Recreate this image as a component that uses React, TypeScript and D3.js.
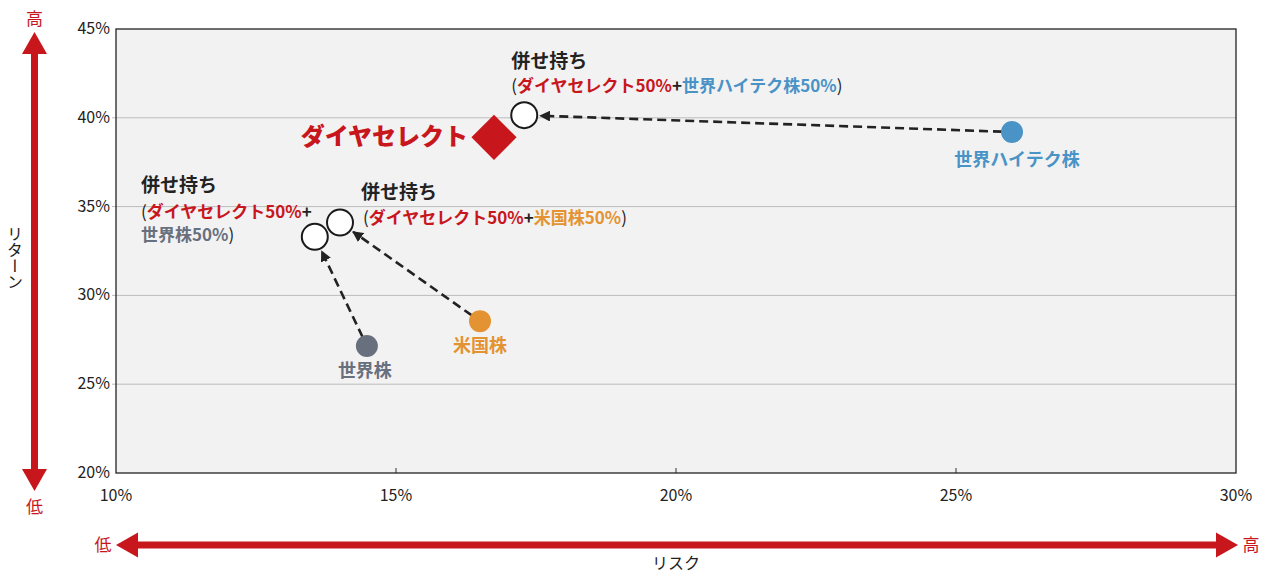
import React from 'react';
import * as d3 from 'd3';

// single assets (risk %, return %)
const assetNames = ['世界ハイテク株', '米国株', '世界株'];
const assetRisk = [26.0, 16.5, 14.48];
const assetReturn = [39.2, 28.55, 27.15];
const assetColors = ['#4a93c6', '#e39331', '#68707e'];

// 50/50 combinations with ダイヤセレクト
const comboRisk = [17.29, 14.0, 13.55];
const comboReturn = [40.15, 34.1, 33.3];

// ダイヤセレクト itself
const diaRisk = 16.75;
const diaReturn = 38.9;

const xTicks = [10, 15, 20, 25, 30];
const yTicks = [20, 25, 30, 35, 40, 45];

const RED = '#c8161d';
const FONT = '"Noto Sans CJK JP", "Noto Sans", sans-serif';

const W = 1268;
const H = 578;
const margin = { top: 29, right: 32, bottom: 105, left: 116 };

const App: React.FC = () => {
  const x = d3.scaleLinear().domain([10, 30]).range([margin.left, W - margin.right]);
  const y = d3.scaleLinear().domain([20, 45]).range([H - margin.bottom, margin.top]);

  const x0 = x(10), x1 = x(30), y0 = y(20), y1 = y(45);

  // dashed arrow from asset dot to combo circle
  const arrows = assetNames.map((_, i) => {
    const sx = x(assetRisk[i]), sy = y(assetReturn[i]);
    const tx = x(comboRisk[i]), ty = y(comboReturn[i]);
    const len = Math.hypot(tx - sx, ty - sy);
    const ux = (tx - sx) / len, uy = (ty - sy) / len;
    return { x1: sx + ux * 10, y1: sy + uy * 10, x2: tx - ux * 16, y2: ty - uy * 16 };
  });

  const dx = x(diaRisk), dy = y(diaReturn);

  const combo = (i: number) => ({ cx: x(comboRisk[i]), cy: y(comboReturn[i]) });
  const c0 = combo(0), c1 = combo(1), c2 = combo(2);

  return (
    <svg width={W} height={H} style={{ position: 'absolute', left: 0, top: 0, fontFamily: FONT }}>
      <defs>
        <marker id="ah" viewBox="0 0 10 10" refX="9" refY="5" markerWidth="4.2" markerHeight="4.2" orient="auto">
          <path d="M0,0 L10,5 L0,10 z" fill="#222" />
        </marker>
      </defs>
      <rect width={W} height={H} fill="#fff" />

      {/* plot area */}
      <rect x={x0} y={y1} width={x1 - x0} height={y0 - y1} fill="#f2f2f2" />
      {yTicks.slice(1, -1).map(t => (
        <line key={t} x1={x0 - 4} x2={x1} y1={y(t)} y2={y(t)} stroke="#bcbcbc" strokeWidth={1} />
      ))}
      {xTicks.slice(1, -1).map(t => (
        <line key={t} x1={x(t)} x2={x(t)} y1={y0} y2={y0 - 5} stroke="#333" strokeWidth={1} />
      ))}
      <rect x={x0} y={y1} width={x1 - x0} height={y0 - y1} fill="none" stroke="#222" strokeWidth={1.3} />

      {/* tick labels */}
      {yTicks.map(t => (
        <text key={t} x={x0 - 6} y={y(t) + 5} textAnchor="end" fontSize={16} fill="#222">{t}%</text>
      ))}
      {xTicks.map(t => (
        <text key={t} x={x(t)} y={y0 + 28} textAnchor="middle" fontSize={16} fill="#222">{t}%</text>
      ))}

      {/* vertical return arrow */}
      <rect x={31} y={50} width={7} height={422} fill={RED} />
      <path d="M34.5,32 L47,54 L22,54 Z" fill={RED} />
      <path d="M34.5,491 L47,469 L22,469 Z" fill={RED} />
      <text x={34.5} y={25} textAnchor="middle" fontSize={17} fill={RED}>高</text>
      <text x={34.5} y={513} textAnchor="middle" fontSize={17} fill={RED}>低</text>
      <text x={15} y={226} fontSize={16} fill="#222"
        style={{ writingMode: 'vertical-rl', textOrientation: 'upright' } as React.CSSProperties}>リターン</text>

      {/* horizontal risk arrow */}
      <rect x={134} y={541.5} width={1086} height={7} fill={RED} />
      <path d="M116,545 L138,532.5 L138,557.5 Z" fill={RED} />
      <path d="M1238,545 L1216,532.5 L1216,557.5 Z" fill={RED} />
      <text x={103} y={551} textAnchor="middle" fontSize={17} fill={RED}>低</text>
      <text x={1251} y={551} textAnchor="middle" fontSize={17} fill={RED}>高</text>
      <text x={x(20)} y={569} textAnchor="middle" fontSize={16} fill="#222">リスク</text>

      {/* dashed arrows */}
      {arrows.map((a, i) => (
        <line key={i} {...a} stroke="#222" strokeWidth={2.6} strokeDasharray="9 5" markerEnd="url(#ah)" />
      ))}

      {/* asset dots */}
      {assetNames.map((n, i) => (
        <circle key={n} cx={x(assetRisk[i])} cy={y(assetReturn[i])} r={11} fill={assetColors[i]} />
      ))}

      {/* combo circles */}
      {[c2, c1, c0].map((c, i) => (
        <circle key={i} cx={c.cx} cy={c.cy} r={13} fill="#fff" stroke="#1a1a1a" strokeWidth={2} />
      ))}

      {/* ダイヤセレクト diamond */}
      <path d={d3.symbol(d3.symbolDiamond2, 1300)() || ''} transform={`translate(${dx},${dy})`} fill={RED} />
      <text x={dx - 26} y={dy + 8} textAnchor="end" fontSize={24} fontWeight={900} fill={RED}>ダイヤセレクト</text>

      {/* asset labels */}
      <text x={x(assetRisk[0]) + 5} y={y(assetReturn[0]) + 34} textAnchor="middle" fontSize={18} fontWeight={700} fill={assetColors[0]}>{assetNames[0]}</text>
      <text x={x(assetRisk[1])} y={y(assetReturn[1]) + 31} textAnchor="middle" fontSize={18} fontWeight={700} fill={assetColors[1]}>{assetNames[1]}</text>
      <text x={x(assetRisk[2]) - 2} y={y(assetReturn[2]) + 31} textAnchor="middle" fontSize={18} fontWeight={700} fill={assetColors[2]}>{assetNames[2]}</text>

      {/* combo labels */}
      <text x={c0.cx - 13} y={c0.cy - 47} fontSize={19} fontWeight={700} fill="#222">併せ持ち</text>
      <text x={c0.cx - 13} y={c0.cy - 23} fontSize={17} fontWeight={700} fill="#222">
        <tspan fontWeight={400}>(</tspan><tspan fill={RED}>ダイヤセレクト50%</tspan>+<tspan fill={assetColors[0]}>世界ハイテク株50%</tspan><tspan fontWeight={400}>)</tspan>
      </text>

      <text x={c1.cx + 21} y={c1.cy - 24} fontSize={19} fontWeight={700} fill="#222">併せ持ち</text>
      <text x={c1.cx + 23} y={c1.cy + 1} fontSize={17} fontWeight={700} fill="#222">
        <tspan fontWeight={400}>(</tspan><tspan fill={RED}>ダイヤセレクト50%</tspan>+<tspan fill={assetColors[1]}>米国株50%</tspan><tspan fontWeight={400}>)</tspan>
      </text>

      <text x={141} y={c2.cy - 45} fontSize={19} fontWeight={700} fill="#222">併せ持ち</text>
      <text x={141} y={c2.cy - 19} fontSize={17} fontWeight={700} fill="#222">
        <tspan fontWeight={400}>(</tspan><tspan fill={RED}>ダイヤセレクト50%</tspan>+
      </text>
      <text x={141} y={c2.cy + 4} fontSize={17} fontWeight={700} fill={assetColors[2]}>
        世界株50%<tspan fill="#222" fontWeight={400}>)</tspan>
      </text>
    </svg>
  );
};

export default App;
